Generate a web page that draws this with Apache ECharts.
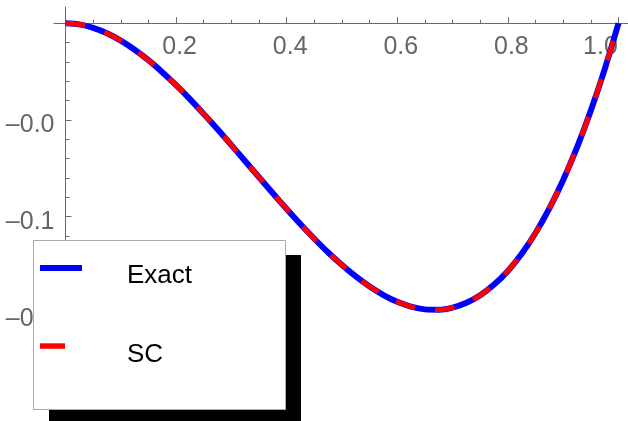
<!DOCTYPE html>
<html>
<head>
<meta charset="utf-8">
<script src="https://cdn.jsdelivr.net/npm/echarts@6/dist/echarts.min.js"></script>
<style>
  html, body { margin: 0; padding: 0; background: #fff; }
  #chart { width: 628px; height: 421px; }
</style>
</head>
<body>
<div id="chart"></div>
<script>
// Sample positions along x and the two solutions evaluated there
const xValues = [0, 0.025, 0.05, 0.075, 0.1, 0.125, 0.15, 0.175, 0.2, 0.225, 0.25,
  0.275, 0.3, 0.325, 0.35, 0.375, 0.4, 0.425, 0.45, 0.475, 0.5,
  0.525, 0.55, 0.575, 0.6, 0.625, 0.65, 0.675, 0.7, 0.725, 0.75,
  0.775, 0.8, 0.825, 0.85, 0.875, 0.9, 0.925, 0.95, 0.975, 1.0];
const exactValues = [0, -0.0006, -0.0024, -0.0052, -0.009, -0.0137, -0.0191, -0.0253, -0.032, -0.0392, -0.0469,
  -0.0548, -0.063, -0.0713, -0.0796, -0.0879, -0.096, -0.1039, -0.1114, -0.1185, -0.125,
  -0.1309, -0.1361, -0.1405, -0.144, -0.1465, -0.1479, -0.1481, -0.147, -0.1445, -0.1406,
  -0.1351, -0.128, -0.1191, -0.1084, -0.0957, -0.081, -0.0642, -0.0451, -0.0238, 0];
const scValues = [0, -0.0006, -0.0024, -0.0052, -0.009, -0.0137, -0.0191, -0.0253, -0.032, -0.0392, -0.0469,
  -0.0548, -0.063, -0.0713, -0.0796, -0.0879, -0.096, -0.1039, -0.1114, -0.1185, -0.125,
  -0.1309, -0.1361, -0.1405, -0.144, -0.1465, -0.1479, -0.1481, -0.147, -0.1445, -0.1406,
  -0.1351, -0.128, -0.1191, -0.1084, -0.0957, -0.081, -0.0642, -0.0451, -0.0238, 0];

// Axis ticks and their labels
const xMajorTicks = [0.2, 0.4, 0.6, 0.8, 1.0];
const xTickLabels = ['0.2', '0.4', '0.6', '0.8', '1.0'];
const xMinorTicks = [0.05, 0.1, 0.15, 0.25, 0.3, 0.35, 0.45, 0.5, 0.55, 0.65, 0.7, 0.75, 0.85, 0.9, 0.95];
const yMajorTicks = [-0.05, -0.1, -0.15];
const yTickLabels = ['\u20130.0', '\u20130.1', '\u20130.1'];
const yMinorTicks = [-0.01, -0.02, -0.03, -0.04, -0.06, -0.07, -0.08, -0.09,
  -0.11, -0.12, -0.13, -0.14, -0.16, -0.17, -0.18, -0.19];

const seriesNames = ['Exact', 'SC'];

const X_MIN = -0.0208, X_MAX = 1.0172;
const Y_MIN = -0.2056, Y_MAX = 0.0084;
const FONT = "'Liberation Sans', Arial, sans-serif";
const AXIS_GREY = '#6a6a6a';
const LABEL_GREY = '#666';

// Plot area, and offsets that place each axis through the origin
const GRID = { left: 54, right: 0, top: 7, bottom: 0 };
const W = 628, H = 421;
const gridW = W - GRID.left - GRID.right;
const gridH = H - GRID.top - GRID.bottom;
const xAxisOffset = -gridH * (0 - Y_MIN) / (Y_MAX - Y_MIN);
const yAxisOffset = -gridW * (0 - X_MIN) / (X_MAX - X_MIN);

const pairs = vals => xValues.map((x, i) => [x, vals[i]]);
const labelFor = (ticks, labels, v) => {
  const i = ticks.findIndex(t => Math.abs(t - v) < 1e-9);
  return { i, txt: i >= 0 ? labels[i] : '' };
};

const baseAxis = {
  type: 'value',
  splitLine: { show: false },
  axisLine: { onZero: false, lineStyle: { color: AXIS_GREY, width: 1 } }
};

const chart = echarts.init(document.getElementById('chart'), null, { renderer: 'canvas' });

chart.setOption({
  animation: false,
  backgroundColor: '#fff',
  grid: Object.assign({ containLabel: false, outerBoundsMode: 'none' }, GRID),
  xAxis: [
    Object.assign({}, baseAxis, {
      min: X_MIN, max: X_MAX, position: 'bottom', offset: xAxisOffset,
      axisTick: { show: true, inside: true, length: 6, customValues: xMajorTicks,
        lineStyle: { color: AXIS_GREY } },
      axisLabel: {
        customValues: xMajorTicks,
        margin: 11,
        fontFamily: FONT, fontSize: 25, color: LABEL_GREY,
        formatter: v => {
          const { i, txt } = labelFor(xMajorTicks, xTickLabels, v);
          return i === xMajorTicks.length - 1 ? '{e|' + txt + '}' : '{n|' + txt + '}';
        },
        rich: {
          n: { fontFamily: FONT, fontSize: 25, color: LABEL_GREY, padding: [0, 0, 0, 7] },
          e: { fontFamily: FONT, fontSize: 25, color: LABEL_GREY, padding: [0, 36, 0, 0] }
        }
      }
    }),
    Object.assign({}, baseAxis, {
      min: X_MIN, max: X_MAX, position: 'bottom', offset: xAxisOffset,
      axisLine: { onZero: false, show: false },
      axisTick: { show: true, inside: true, length: 3.5, customValues: xMinorTicks,
        lineStyle: { color: AXIS_GREY } },
      axisLabel: { show: false }
    })
  ],
  yAxis: [
    Object.assign({}, baseAxis, {
      min: Y_MIN, max: Y_MAX, position: 'left', offset: yAxisOffset,
      axisTick: { show: true, inside: true, length: 6, customValues: yMajorTicks,
        lineStyle: { color: AXIS_GREY } },
      axisLabel: {
        customValues: yMajorTicks,
        margin: 11,
        fontFamily: FONT, fontSize: 25, color: LABEL_GREY,
        formatter: v => '{y|' + labelFor(yMajorTicks, yTickLabels, v).txt + '}',
        rich: {
          y: { fontFamily: FONT, fontSize: 25, color: LABEL_GREY, padding: [11, 0, 0, 0] }
        }
      }
    }),
    Object.assign({}, baseAxis, {
      min: Y_MIN, max: Y_MAX, position: 'left', offset: yAxisOffset,
      axisLine: { onZero: false, show: false },
      axisTick: { show: true, inside: true, length: 4, customValues: yMinorTicks,
        lineStyle: { color: AXIS_GREY } },
      axisLabel: { show: false }
    })
  ],
  series: [
    {
      name: seriesNames[0], type: 'line', xAxisIndex: 0, yAxisIndex: 0,
      data: pairs(exactValues), smooth: 0.3, showSymbol: false, symbol: 'none',
      lineStyle: { color: '#0000ff', width: 6, cap: 'butt' }, z: 2
    },
    {
      name: seriesNames[1], type: 'line', xAxisIndex: 0, yAxisIndex: 0,
      data: pairs(scValues), smooth: 0.3, showSymbol: false, symbol: 'none',
      lineStyle: { color: '#ff0000', width: 5, type: [20, 20], cap: 'butt' }, z: 3
    }
  ],
  // Framed legend box with a solid drop shadow
  graphic: [
    {
      type: 'group', left: 33, top: 240, z: 100,
      children: [
        { type: 'rect', x: 16, y: 15, shape: { width: 252, height: 175 }, style: { fill: '#000' }, z: 100 },
        { type: 'rect', x: 0.5, y: 0.5, shape: { width: 252, height: 169 },
          style: { fill: '#fff', stroke: '#aaaaaa', lineWidth: 1 }, z: 101 },
        { type: 'rect', x: 7, y: 25, shape: { width: 42, height: 6 }, style: { fill: '#0000ff' }, z: 102 },
        { type: 'text', x: 94, y: 35.5, style: { text: seriesNames[0], font: '26px ' + FONT,
          fill: '#000', verticalAlign: 'middle', align: 'left' }, z: 102 },
        { type: 'rect', x: 7, y: 103.3, shape: { width: 25, height: 5.5 }, style: { fill: '#ff0000' }, z: 102 },
        { type: 'text', x: 94, y: 115, style: { text: seriesNames[1], font: '26px ' + FONT,
          fill: '#000', verticalAlign: 'middle', align: 'left' }, z: 102 }
      ]
    }
  ]
});
</script>
</body>
</html>
